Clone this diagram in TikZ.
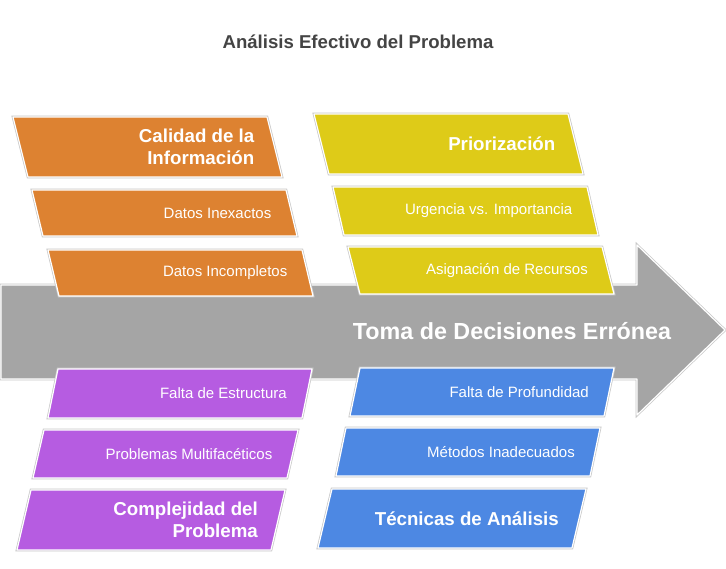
\documentclass[tikz,border=0pt]{standalone}
\usepackage{fontspec}
\setmainfont{Liberation Sans}
\usetikzlibrary{positioning}
\definecolor{infoorange}{RGB}{221,130,49}
\definecolor{prioyellow}{RGB}{222,203,24}
\definecolor{complpurple}{RGB}{182,92,225}
\definecolor{techblue}{RGB}{77,136,227}
\definecolor{spinegray}{RGB}{165,165,165}
\definecolor{titlegray}{RGB}{68,68,68}

\begin{document}
\begin{tikzpicture}[x=1pt,y=-1pt,
  card/.style={preaction={draw=black!22,line width=2.6pt},draw=white,line width=1.2pt,line join=round},
  smalllabel/.style={text=white,font=\fontsize{15}{17}\selectfont,anchor=east,inner sep=0pt},
  biglabel/.style={text=white,font=\bfseries\fontsize{18.7}{22.5}\selectfont,anchor=east,align=right,inner sep=0pt}]
\useasboundingbox (0,0) rectangle (726,569);
\node[font=\bfseries\fontsize{18.6}{21}\selectfont,text=titlegray] (title) at (358,42) {Análisis Efectivo del Problema};
% spine of the fishbone
\begin{scope}
\clip (0,0) rectangle (726,569);
\fill[spinegray,card] (1,285) -- (637,285) -- (637,245) -- (725,330) -- (637,415) -- (637,379) -- (1,379) -- cycle;
\end{scope}
\node[text=white,font=\bfseries\fontsize{23.3}{27}\selectfont] (effect) at (512,331) {Toma de Decisiones Errónea};
% cause boxes: name/left/top/bottom/skew/colour/style/text
\foreach \n/\xl/\yt/\yb/\s/\c/\st/\t in {
  calidad/13/117/177/15/infoorange/biglabel/{Calidad de la\\Información},
  inexactos/32/190/236/11/infoorange/smalllabel/{Datos Inexactos},
  incompletos/48/250/296/11/infoorange/smalllabel/{Datos Incompletos},
  priorizacion/314/114/174/15/prioyellow/biglabel/{Priorización},
  urgencia/333/187/235/11/prioyellow/smalllabel/{Urgencia vs. Importancia},
  asignacion/348/247/294/12/prioyellow/smalllabel/{Asignación de Recursos},
  estructura/58/369/418/-10/complpurple/smalllabel/{Falta de Estructura},
  multifacet/44/430/478/-11/complpurple/smalllabel/{Problemas Multifacéticos},
  complejidad/31/490/550/-14/complpurple/biglabel/{Complejidad del\\Problema},
  profundidad/360/368/416/-10/techblue/smalllabel/{Falta de Profundidad},
  metodos/346/428/476/-10/techblue/smalllabel/{Métodos Inadecuados},
  tecnicas/332/489/548/-14/techblue/biglabel/{Técnicas de Análisis}} {
  \fill[\c,card] (\xl,\yt) -- ({\xl+254},\yt) -- ({\xl+254+(\s)},\yb) -- ({\xl+(\s)},\yb) -- cycle;
  \node[\st] (\n) at ({\xl+254+0.5*(\s)-20},{0.5*(\yt+\yb)}) {\t};
}
\end{tikzpicture}
\end{document}
